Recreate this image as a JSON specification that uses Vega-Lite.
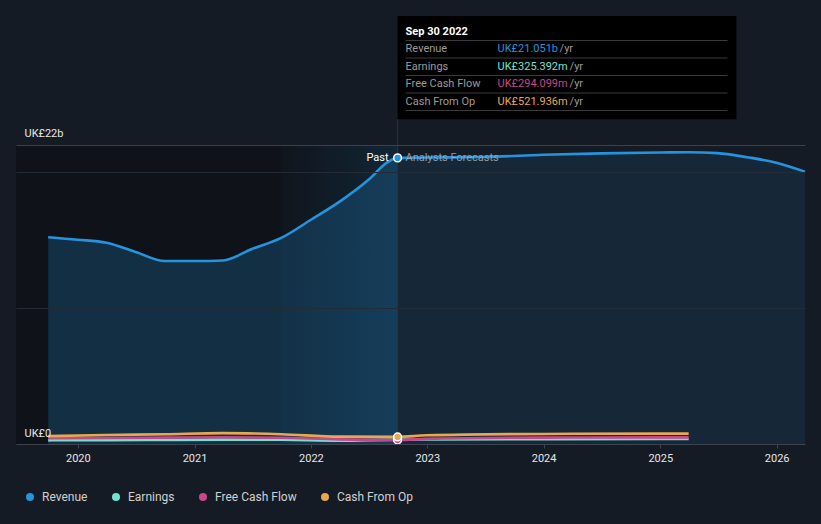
{
  "$schema": "https://vega.github.io/schema/vega-lite/v6.json",
  "width": 789,
  "height": 428,
  "autosize": {"type": "none"},
  "padding": {"left": 16, "top": 16, "right": 16, "bottom": 80},
  "background": "#151b24",
  "config": {"font": "Roboto", "view": {"stroke": null}},
  "layer": [
    {
      "data": {
        "values": [
          {"date": "2019-09-30", "series": "Revenue", "value": 15.21},
          {"date": "2019-12-31", "series": "Revenue", "value": 15.03},
          {"date": "2020-03-31", "series": "Revenue", "value": 14.81},
          {"date": "2020-06-30", "series": "Revenue", "value": 14.13},
          {"date": "2020-09-30", "series": "Revenue", "value": 13.46},
          {"date": "2020-12-31", "series": "Revenue", "value": 13.46},
          {"date": "2021-03-31", "series": "Revenue", "value": 13.50},
          {"date": "2021-06-30", "series": "Revenue", "value": 14.35},
          {"date": "2021-09-30", "series": "Revenue", "value": 15.16},
          {"date": "2021-12-31", "series": "Revenue", "value": 16.48},
          {"date": "2022-03-31", "series": "Revenue", "value": 17.81},
          {"date": "2022-06-30", "series": "Revenue", "value": 19.42},
          {"date": "2022-08-31", "series": "Revenue", "value": 20.75},
          {"date": "2022-09-30", "series": "Revenue", "value": 21.051},
          {"date": "2022-12-31", "series": "Revenue", "value": 21.08},
          {"date": "2023-06-30", "series": "Revenue", "value": 21.12},
          {"date": "2023-12-31", "series": "Revenue", "value": 21.28},
          {"date": "2024-06-30", "series": "Revenue", "value": 21.38},
          {"date": "2024-12-31", "series": "Revenue", "value": 21.45},
          {"date": "2025-03-31", "series": "Revenue", "value": 21.47},
          {"date": "2025-06-30", "series": "Revenue", "value": 21.40},
          {"date": "2025-09-30", "series": "Revenue", "value": 21.10},
          {"date": "2025-12-31", "series": "Revenue", "value": 20.70},
          {"date": "2026-03-31", "series": "Revenue", "value": 20.04},
          {"date": "2019-09-30", "series": "Earnings", "value": 0.27},
          {"date": "2020-03-31", "series": "Earnings", "value": 0.28},
          {"date": "2020-09-30", "series": "Earnings", "value": 0.30},
          {"date": "2021-03-31", "series": "Earnings", "value": 0.32},
          {"date": "2021-09-30", "series": "Earnings", "value": 0.31},
          {"date": "2022-03-31", "series": "Earnings", "value": 0.24},
          {"date": "2022-09-30", "series": "Earnings", "value": 0.325},
          {"date": "2022-12-31", "series": "Earnings", "value": 0.33},
          {"date": "2023-12-31", "series": "Earnings", "value": 0.36},
          {"date": "2024-12-31", "series": "Earnings", "value": 0.37},
          {"date": "2025-03-31", "series": "Earnings", "value": 0.37},
          {"date": "2019-09-30", "series": "Free Cash Flow", "value": 0.42},
          {"date": "2020-03-31", "series": "Free Cash Flow", "value": 0.44},
          {"date": "2020-09-30", "series": "Free Cash Flow", "value": 0.47},
          {"date": "2021-03-31", "series": "Free Cash Flow", "value": 0.50},
          {"date": "2021-09-30", "series": "Free Cash Flow", "value": 0.46},
          {"date": "2022-03-31", "series": "Free Cash Flow", "value": 0.34},
          {"date": "2022-09-30", "series": "Free Cash Flow", "value": 0.294},
          {"date": "2022-12-31", "series": "Free Cash Flow", "value": 0.38},
          {"date": "2023-12-31", "series": "Free Cash Flow", "value": 0.47},
          {"date": "2024-12-31", "series": "Free Cash Flow", "value": 0.49},
          {"date": "2025-03-31", "series": "Free Cash Flow", "value": 0.49},
          {"date": "2019-09-30", "series": "Cash From Op", "value": 0.58},
          {"date": "2020-03-31", "series": "Cash From Op", "value": 0.66},
          {"date": "2020-09-30", "series": "Cash From Op", "value": 0.72},
          {"date": "2021-03-31", "series": "Cash From Op", "value": 0.80},
          {"date": "2021-09-30", "series": "Cash From Op", "value": 0.72},
          {"date": "2022-03-31", "series": "Cash From Op", "value": 0.54},
          {"date": "2022-09-30", "series": "Cash From Op", "value": 0.522},
          {"date": "2022-12-31", "series": "Cash From Op", "value": 0.64},
          {"date": "2023-12-31", "series": "Cash From Op", "value": 0.74},
          {"date": "2024-12-31", "series": "Cash From Op", "value": 0.76},
          {"date": "2025-03-31", "series": "Cash From Op", "value": 0.76}
        ],
        "format": {"parse": {"date": "date"}}
      },
      "encoding": {
        "x": {
          "field": "date", "type": "temporal", "title": null,
          "scale": {"domain": [{"year": 2019, "month": 6, "date": 21, "utc": true}, {"year": 2026, "month": 3, "date": 31, "utc": true}], "nice": false},
          "axis": {"format": "%Y", "tickCount": {"interval": "year", "step": 1}, "grid": false, "domainColor": "#3d4450", "tickColor": "#3d4450", "tickSize": 4, "labelColor": "#e6e6e6", "labelFontSize": 11, "labelPadding": 4, "labelFlush": false, "title": null, "zindex": 1}
        },
        "y": {
          "field": "value", "type": "quantitative", "title": null,
          "scale": {"domain": [0, 31.49], "nice": false, "zero": true},
          "axis": {"values": [0, 10, 20, 22], "labelExpr": "datum.value === 22 ? 'UK£22b' : datum.value === 0 ? 'UK£0' : ''", "grid": true, "gridColor": {"condition": {"test": "datum.value === 22", "value": "#3b414a"}, "value": "#232b36"}, "domain": false, "ticks": false, "tickSize": 0, "labelAlign": "left", "labelPadding": -8, "labelBaseline": "alphabetic", "labelOffset": -8, "labelColor": "#e6e6e6", "labelFontSize": 11, "labelOverlap": false, "labelFlush": false, "title": null, "zindex": 1}
        }
      },
      "layer": [
        {
          "transform": [{"filter": {"and": [{"field": "series", "equal": "Revenue"}, {"field": "date", "equal": {"year": 2022, "month": 9, "date": 30, "utc": true}}]}}],
          "mark": {"type": "rect", "fill": "#0f1319"},
          "encoding": {
            "x": {"datum": {"year": 2019, "month": 6, "date": 21, "utc": true}, "type": "temporal"},
            "x2": {"datum": {"year": 2022, "month": 9, "date": 30, "utc": true}},
            "y": {"datum": 0, "type": "quantitative"},
            "y2": {"datum": 22}
          }
        },
        {
          "transform": [{"filter": {"and": [{"field": "series", "equal": "Revenue"}, {"field": "date", "lte": {"year": 2022, "month": 9, "date": 30, "utc": true}}]}}],
          "mark": {"type": "area", "interpolate": "monotone", "color": "#2394df", "opacity": 0.22}
        },
        {
          "transform": [{"filter": {"and": [{"field": "series", "equal": "Revenue"}, {"field": "date", "gte": {"year": 2022, "month": 9, "date": 30, "utc": true}}]}}],
          "mark": {"type": "area", "interpolate": "monotone", "color": "#2394df", "opacity": 0.1}
        },
        {
          "transform": [{"filter": {"and": [{"field": "series", "equal": "Revenue"}, {"field": "date", "equal": {"year": 2022, "month": 9, "date": 30, "utc": true}}]}}],
          "mark": {"type": "rect", "fill": {"gradient": "linear", "x1": 0, "x2": 1, "y1": 0, "y2": 0, "stops": [{"offset": 0, "color": "rgba(35,148,223,0.02)"}, {"offset": 1, "color": "rgba(35,148,223,0.14)"}]}},
          "encoding": {
            "x": {"datum": {"year": 2021, "month": 9, "date": 30, "utc": true}, "type": "temporal"},
            "x2": {"datum": {"year": 2022, "month": 9, "date": 30, "utc": true}},
            "y": {"datum": 0, "type": "quantitative"},
            "y2": {"datum": 22}
          }
        },
        {
          "transform": [{"filter": {"and": [{"field": "series", "equal": "Revenue"}, {"field": "date", "equal": {"year": 2022, "month": 9, "date": 30, "utc": true}}]}}],
          "mark": {"type": "rule", "color": "#22364a", "strokeWidth": 1},
          "encoding": {
            "y": {"datum": 0, "type": "quantitative"},
            "y2": {"datum": 23.91}
          }
        },
        {
          "mark": {"type": "line", "interpolate": "monotone", "strokeWidth": 2.6},
          "encoding": {
            "color": {
              "field": "series", "type": "nominal",
              "scale": {"domain": ["Revenue", "Earnings", "Free Cash Flow", "Cash From Op"], "range": ["#2394df", "#6fe3d0", "#c9468a", "#e8a84f"]},
              "legend": {"orient": "none", "legendX": 8, "legendY": 475, "direction": "horizontal", "title": null, "symbolType": "circle", "symbolSize": 64, "labelColor": "#d0d0d0", "labelFontSize": 12, "labelOffset": 6, "columnPadding": 22,
                "encode": {"symbols": {"update": {"fill": {"field": "value", "scale": "color"}, "strokeWidth": {"value": 0}, "shape": {"value": "circle"}, "size": {"value": 64}, "opacity": {"value": 1}}}}}
            }
          }
        },
        {
          "transform": [{"filter": {"field": "date", "equal": {"year": 2022, "month": 9, "date": 30, "utc": true}}}],
          "mark": {"type": "point", "filled": true, "size": 60, "stroke": "#ffffff", "strokeWidth": 1.5, "opacity": 1},
          "encoding": {"color": {"field": "series", "type": "nominal"}}
        },
        {
          "transform": [{"filter": {"and": [{"field": "series", "equal": "Revenue"}, {"field": "date", "equal": {"year": 2022, "month": 9, "date": 30, "utc": true}}]}}],
          "mark": {"type": "text", "text": "Past", "align": "right", "baseline": "middle", "dx": -9, "color": "#ffffff", "fontSize": 11}
        },
        {
          "transform": [{"filter": {"and": [{"field": "series", "equal": "Revenue"}, {"field": "date", "equal": {"year": 2022, "month": 9, "date": 30, "utc": true}}]}}],
          "mark": {"type": "text", "text": "Analysts Forecasts", "align": "left", "baseline": "middle", "dx": 8, "color": "#a7adb4", "opacity": 0.85, "fontSize": 11}
        }
      ]
    },
    {
      "data": {
        "values": [
          {"row": 1, "series": "Revenue", "label": "Revenue", "value": "UK£21.051b"},
          {"row": 2, "series": "Earnings", "label": "Earnings", "value": "UK£325.392m"},
          {"row": 3, "series": "Free Cash Flow", "label": "Free Cash Flow", "value": "UK£294.099m"},
          {"row": 4, "series": "Cash From Op", "label": "Cash From Op", "value": "UK£521.936m"}
        ]
      },
      "encoding": {
        "x": {"datum": {"year": 2022, "month": 9, "date": 30, "utc": true}, "type": "temporal"},
        "y": {"field": "row", "type": "quantitative", "scale": {"domain": [-0.9, 23.557], "reverse": true, "nice": false, "zero": false}, "axis": null}
      },
      "layer": [
        {
          "transform": [{"filter": "datum.row === 1"}],
          "mark": {"type": "rect", "fill": "#000000"},
          "encoding": {
            "x2": {"datum": {"year": 2025, "month": 8, "date": 28, "utc": true}},
            "y": {"datum": -0.9, "type": "quantitative"},
            "y2": {"datum": 5.0}
          }
        },
        {
          "mark": {"type": "rule", "color": "#3a3a3a", "strokeWidth": 1, "yOffset": -8.75, "xOffset": 8, "x2Offset": -9},
          "encoding": {"x2": {"datum": {"year": 2025, "month": 8, "date": 28, "utc": true}}}
        },
        {
          "transform": [{"filter": "datum.row === 4"}],
          "mark": {"type": "rule", "color": "#3a3a3a", "strokeWidth": 1, "yOffset": 8.75, "xOffset": 8, "x2Offset": -9},
          "encoding": {"x2": {"datum": {"year": 2025, "month": 8, "date": 28, "utc": true}}}
        },
        {
          "transform": [{"filter": "datum.row === 1"}],
          "mark": {"type": "text", "text": "Sep 30 2022", "align": "left", "baseline": "middle", "dx": 8, "color": "#ffffff", "fontSize": 11, "fontWeight": "bold"},
          "encoding": {"y": {"datum": 0, "type": "quantitative"}}
        },
        {
          "mark": {"type": "text", "align": "left", "baseline": "middle", "dx": 8, "color": "#9b9b9b", "fontSize": 11},
          "encoding": {"text": {"field": "label"}}
        },
        {
          "mark": {"type": "text", "align": "left", "baseline": "middle", "dx": 100, "fontSize": 11},
          "encoding": {"text": {"field": "value"}, "color": {"field": "series", "type": "nominal", "legend": null}}
        },
        {
          "transform": [{"filter": "datum.row === 1"}],
          "mark": {"type": "text", "text": "/yr", "align": "left", "baseline": "middle", "dx": 162, "color": "#9b9b9b", "fontSize": 11}
        },
        {
          "transform": [{"filter": "datum.row > 1"}],
          "mark": {"type": "text", "text": "/yr", "align": "left", "baseline": "middle", "dx": 172, "color": "#9b9b9b", "fontSize": 11}
        }
      ]
    }
  ],
  "resolve": {"scale": {"y": "independent"}}
}
